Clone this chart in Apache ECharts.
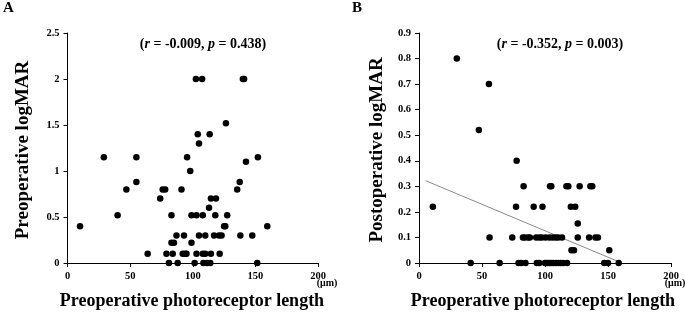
<!DOCTYPE html>
<html><head><meta charset="utf-8">
<script src="https://cdn.jsdelivr.net/npm/echarts@6/dist/echarts.min.js"></script>
<style>html,body{margin:0;padding:0;background:#fff}#c{width:685px;height:321px}</style>
</head><body><div id="c"></div>
<script>
// Panel A: preoperative photoreceptor length (µm) vs preoperative logMAR
const lengthA = [10,29,40,47,55,55,64,74,76,78,79,81,83,83,85,84,87,88,91,92,94,95,93,95.5,98,99,99,101.5,102.5,103,103,104,105,105,107.5,108,108.5,108,110,110,111.5,113,113.5,114,114.5,114.5,118,118.5,117,121,123,121.5,125,126,126.5,127.5,135.5,137.5,138,140,141,142.5,147.5,151.5,152,159.5];
const logmarA = [0.40,1.15,0.52,0.80,1.15,0.88,0.10,0.70,0.80,0.80,0.10,0,0.52,0.22,0.22,0.10,0.30,0,0.80,0.10,0.10,0.10,0.30,1.15,1.00,0.22,0.52,0,2.00,0.52,0.10,1.40,0.30,1.30,2.00,0.10,0,0.52,0.30,0.10,0,0.60,1.40,0,0.70,0.10,0.52,0.70,0.30,0.30,0.30,0.10,0.40,0.40,1.52,0.52,0.80,0.88,0.30,2.00,2.00,1.10,0.30,0,1.15,0.40];
// Panel B: preoperative photoreceptor length (µm) vs postoperative logMAR
const lengthB = [11,30,41,47.5,55.5,56,64,74,77.5,77,79,81,82.5,84,86.5,88,83,84.5,91,93,95.5,97.5,93.5,95.5,98,100,101.5,103,104.5,106.5,108.5,110.5,112.5,114.5,117.5,100.5,103.5,106,108.5,110.5,113.5,104,105,117,118.5,120.5,124,121,123,126,126,127.5,135,136,137.5,140,142,147,150,151,158.5];
const logmarB = [0.22,0.80,0,0.52,0.70,0.10,0,0.10,0.40,0.22,0,0,0.10,0.10,0.10,0.10,0.30,0,0.22,0.10,0.10,0.10,0,0,0.22,0,0,0,0,0,0,0,0,0,0,0.10,0.10,0.10,0.10,0.10,0.10,0.30,0.30,0.30,0.30,0.22,0.22,0.05,0.05,0.155,0.10,0.30,0.10,0.30,0.30,0.10,0.10,0,0,0.05,0];
// Regression line of panel B (end points)
const trendX = [5.3, 159];
const trendY = [0.322, 0.004];
const xTicks = [0,50,100,150,200];
const yTicksA = [0,0.5,1,1.5,2,2.5];
const yTicksB = [0,0.1,0.2,0.3,0.4,0.5,0.6,0.7,0.8,0.9];
const statsA = {r:'-0.009', p:'0.438'};
const statsB = {r:'-0.352', p:'0.003'};

const FONT = '"Liberation Serif","Times New Roman",serif';
const zip = (a,b)=>a.map((v,i)=>[v,b[i]]);

function xAxis(idx){
  return {gridIndex:idx,type:'value',min:xTicks[0],max:xTicks[xTicks.length-1],interval:50,
    axisLine:{show:true,onZero:false,lineStyle:{color:'#000',width:1}},
    axisTick:{show:true,length:4,lineStyle:{color:'#000'}},
    splitLine:{show:false},
    axisLabel:{color:'#000',fontFamily:FONT,fontWeight:'bold',fontSize:10.5,margin:8}};
}
function yAxis(idx,ticks,interval,fmt){
  return {gridIndex:idx,type:'value',min:0,max:ticks[ticks.length-1],interval:interval,
    axisLine:{show:true,onZero:false,lineStyle:{color:'#000',width:1}},
    axisTick:{show:true,length:4,lineStyle:{color:'#000'}},
    splitLine:{show:false},
    axisLabel:{color:'#000',fontFamily:FONT,fontWeight:'bold',fontSize:10.5,margin:8,formatter:fmt}};
}
function statText(s){
  return '{n|(}{i|r}{n| = '+s.r+', }{i|p}{n| = '+s.p+')}';
}
const richStat = {n:{fontFamily:FONT,fontWeight:'bold',fontSize:14,fill:'#000'},
                  i:{fontFamily:FONT,fontWeight:'bold',fontStyle:'italic',fontSize:14,fill:'#000'}};
const dot = {color:'#000',opacity:1};

const chart = echarts.init(document.getElementById('c'),null,{renderer:'canvas'});
chart.setOption({
  animation:false,
  backgroundColor:'#fff',
  grid:[
    {left:67.5,top:33,width:250.5,height:230,containLabel:false},
    {left:419,top:33,width:252,height:230,containLabel:false}
  ],
  xAxis:[xAxis(0),xAxis(1)],
  yAxis:[
    yAxis(0,yTicksA,0.5,v=>String(+v.toFixed(1))),
    yAxis(1,yTicksB,0.1,v=>(+v.toFixed(1))===0?'0':v.toFixed(1))
  ],
  series:[
    {type:'scatter',xAxisIndex:0,yAxisIndex:0,data:zip(lengthA,logmarA),symbolSize:6.5,itemStyle:dot},
    {type:'line',xAxisIndex:1,yAxisIndex:1,data:zip(trendX,trendY),symbol:'none',lineStyle:{color:'#8a8a8a',width:1},z:1},
    {type:'scatter',xAxisIndex:1,yAxisIndex:1,data:zip(lengthB,logmarB),symbolSize:6.5,itemStyle:dot,z:3}
  ],
  graphic:[
    {type:'text',left:3,top:1,style:{text:'A',fontFamily:FONT,fontWeight:'bold',fontSize:15,fill:'#000'}},
    {type:'text',left:352,top:1,style:{text:'B',fontFamily:FONT,fontWeight:'bold',fontSize:15,fill:'#000'}},
    {type:'text',x:203,y:44,style:{text:statText(statsA),rich:richStat,align:'center',verticalAlign:'middle'}},
    {type:'text',x:560,y:44,style:{text:statText(statsB),rich:richStat,align:'center',verticalAlign:'middle'}},
    {type:'text',x:23,y:150,rotation:Math.PI/2,style:{text:'Preoperative logMAR',fontFamily:FONT,fontWeight:'bold',fontSize:19,fill:'#000',align:'center',verticalAlign:'middle'}},
    {type:'text',x:377,y:150,rotation:Math.PI/2,style:{text:'Postoperative logMAR',fontFamily:FONT,fontWeight:'bold',fontSize:19,fill:'#000',align:'center',verticalAlign:'middle'}},
    {type:'text',x:192,y:301,style:{text:'Preoperative photoreceptor length',fontFamily:FONT,fontWeight:'bold',fontSize:18,fill:'#000',align:'center',verticalAlign:'middle'}},
    {type:'text',x:543,y:301,style:{text:'Preoperative photoreceptor length',fontFamily:FONT,fontWeight:'bold',fontSize:18,fill:'#000',align:'center',verticalAlign:'middle'}},
    {type:'text',x:327,y:283,style:{text:'(μm)',fontFamily:FONT,fontWeight:'bold',fontSize:10,fill:'#000',align:'center',verticalAlign:'middle'}},
    {type:'text',x:675,y:283,style:{text:'(μm)',fontFamily:FONT,fontWeight:'bold',fontSize:10,fill:'#000',align:'center',verticalAlign:'middle'}}
  ]
});
</script></body></html>
